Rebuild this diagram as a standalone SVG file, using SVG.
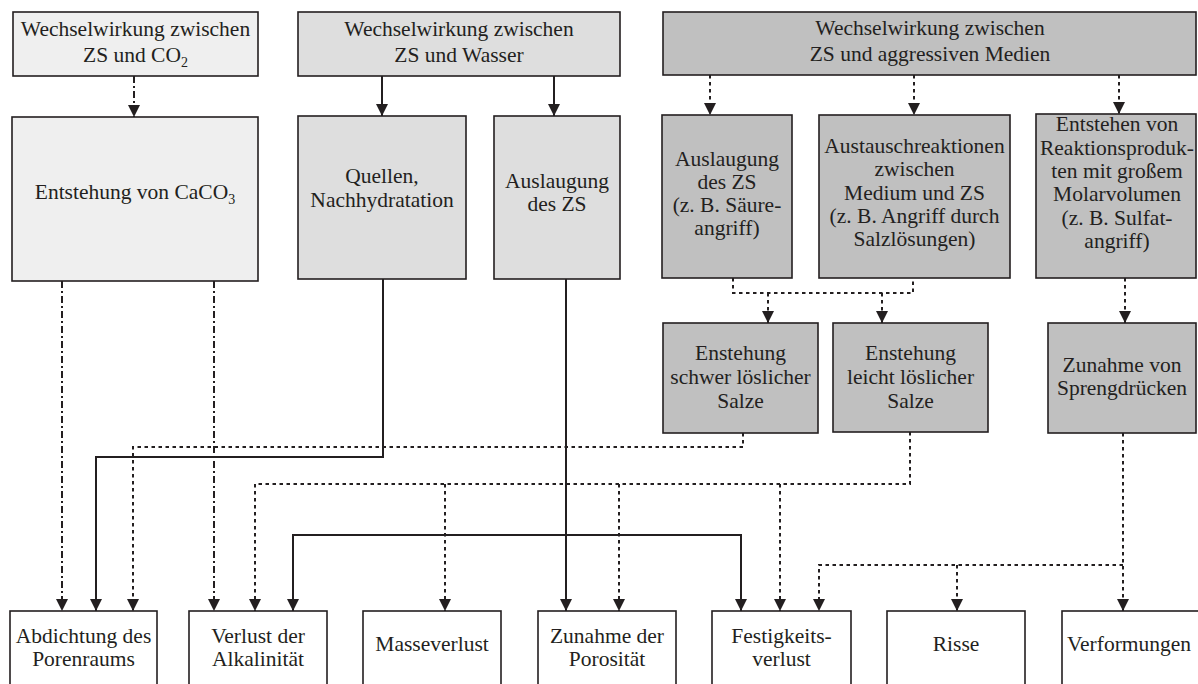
<svg xmlns="http://www.w3.org/2000/svg" width="1198" height="684" viewBox="0 0 1198 684">
<style>
  .box { stroke: #231f20; stroke-width: 1.6; }
  .l1 { fill: #efefef; }
  .l2 { fill: #dedede; }
  .l3 { fill: #c0c0c0; }
  .w { fill: #ffffff; }
  text { font-family: 'Liberation Serif', 'DejaVu Serif', serif; font-size: 21.5px; fill: #231f20; text-anchor: middle; }
  .sub { font-size: 14px; }
  .c { fill: none; stroke: #231f20; stroke-width: 2; }
  .dot { stroke-dasharray: 3.5 3.5; }
  .dd { stroke-dasharray: 7 3 2 3; }
</style>
<defs>
  <marker id="arr" viewBox="0 0 12 12" refX="12" refY="6" markerWidth="12" markerHeight="12" markerUnits="userSpaceOnUse" orient="auto">
    <path d="M0,0 L12,6 L0,12 Z" fill="#231f20"/>
  </marker>
</defs>
<rect width="1198" height="684" fill="#ffffff"/>

<g id="n-co2"><rect class="box l1" x="13" y="12" width="245" height="64"/>
  <text x="135.5" y="36">Wechselwirkung zwischen</text>
  <text x="135.5" y="62">ZS und CO<tspan class="sub" dy="5">2</tspan></text></g>
<g id="n-wasser"><rect class="box l2" x="298" y="12" width="322" height="64"/>
  <text x="459" y="36">Wechselwirkung zwischen</text>
  <text x="459" y="62">ZS und Wasser</text></g>
<g id="n-medien"><rect class="box l3" x="663" y="12" width="533" height="63"/>
  <text x="930" y="35">Wechselwirkung zwischen</text>
  <text x="930" y="61">ZS und aggressiven Medien</text></g>

<g id="n-caco3"><rect class="box l1" x="12" y="117" width="246" height="164"/>
  <text x="135" y="199">Entstehung von CaCO<tspan class="sub" dy="5">3</tspan></text></g>
<g id="n-quellen"><rect class="box l2" x="298" y="116" width="168" height="163"/>
  <text x="382" y="183">Quellen,</text>
  <text x="382" y="207">Nachhydratation</text></g>
<g id="n-auslaugung-w"><rect class="box l2" x="494" y="116" width="126" height="163"/>
  <text x="557" y="188">Auslaugung</text>
  <text x="557" y="211">des ZS</text></g>
<g id="n-auslaugung-s"><rect class="box l3" x="662" y="115" width="130" height="163"/>
  <text x="727" y="166">Auslaugung</text>
  <text x="727" y="189">des ZS</text>
  <text x="727" y="212">(z. B. Säure-</text>
  <text x="727" y="235">angriff)</text></g>
<g id="n-austausch"><rect class="box l3" x="819" y="115" width="191" height="163"/>
  <text x="914.5" y="153">Austauschreaktionen</text>
  <text x="914.5" y="176">zwischen</text>
  <text x="914.5" y="200">Medium und ZS</text>
  <text x="914.5" y="223">(z. B. Angriff durch</text>
  <text x="914.5" y="246">Salzlösungen)</text></g>
<g id="n-entstehen"><rect class="box l3" x="1036" y="114" width="160" height="164"/>
  <text x="1117" y="131">Entstehen von</text>
  <text x="1117" y="155">Reaktionsproduk-</text>
  <text x="1117" y="178">ten mit großem</text>
  <text x="1117" y="201">Molarvolumen</text>
  <text x="1117" y="225">(z. B. Sulfat-</text>
  <text x="1117" y="248">angriff)</text></g>

<g id="n-schwer"><rect class="box l3" x="663" y="323" width="155" height="110"/>
  <text x="740.5" y="360">Enstehung</text>
  <text x="740.5" y="384">schwer löslicher</text>
  <text x="740.5" y="408">Salze</text></g>
<g id="n-leicht"><rect class="box l3" x="833" y="323" width="155" height="109"/>
  <text x="910.5" y="360">Enstehung</text>
  <text x="910.5" y="384">leicht löslicher</text>
  <text x="910.5" y="408">Salze</text></g>
<g id="n-spreng"><rect class="box l3" x="1048" y="323" width="148" height="110"/>
  <text x="1122" y="372">Zunahme von</text>
  <text x="1122" y="395">Sprengdrücken</text></g>

<g id="n-abdichtung"><rect class="box w" x="10" y="611" width="147" height="80"/>
  <text x="83.5" y="643">Abdichtung des</text>
  <text x="83.5" y="666">Porenraums</text></g>
<g id="n-alkalinitaet"><rect class="box w" x="189" y="611" width="138" height="80"/>
  <text x="258" y="643">Verlust der</text>
  <text x="258" y="666">Alkalinität</text></g>
<g id="n-masse"><rect class="box w" x="363" y="611" width="138" height="80"/>
  <text x="432" y="651">Masseverlust</text></g>
<g id="n-porositaet"><rect class="box w" x="538" y="611" width="138" height="80"/>
  <text x="607" y="643">Zunahme der</text>
  <text x="607" y="666">Porosität</text></g>
<g id="n-festigkeit"><rect class="box w" x="712" y="611" width="139" height="80"/>
  <text x="781.5" y="643">Festigkeits-</text>
  <text x="781.5" y="666">verlust</text></g>
<g id="n-risse"><rect class="box w" x="887" y="611" width="138" height="80"/>
  <text x="956" y="651">Risse</text></g>
<g id="n-verformungen"><rect class="box w" x="1062" y="611" width="140" height="80"/>
  <text x="1129" y="651">Verformungen</text></g>

<g id="connectors">
  <path class="c dd" d="M134,76 V117" marker-end="url(#arr)"/>
  <path class="c" d="M382,76 V116" marker-end="url(#arr)"/>
  <path class="c" d="M554,76 V116" marker-end="url(#arr)"/>
  <path class="c dot" d="M710,75 V115" marker-end="url(#arr)"/>
  <path class="c dot" d="M914,75 V115" marker-end="url(#arr)"/>
  <path class="c dot" d="M1119,75 V114" marker-end="url(#arr)"/>

  <path class="c dot" d="M733,278 V293 H913 V278"/>
  <path class="c dot" d="M768,293 V323" marker-end="url(#arr)"/>
  <path class="c dot" d="M882,293 V323" marker-end="url(#arr)"/>
  <path class="c dot" d="M1125,278 V323" marker-end="url(#arr)"/>

  <path class="c dd" d="M62,281 V611" marker-end="url(#arr)"/>
  <path class="c dd" d="M214,281 V611" marker-end="url(#arr)"/>
  <path class="c" d="M383,279 V457 H96 V611" marker-end="url(#arr)"/>
  <path class="c dot" d="M743,433 V447 H133 V611" marker-end="url(#arr)"/>
  <path class="c" d="M566,279 V611" marker-end="url(#arr)"/>
  <path class="c" d="M293,611 V535 H741 V611" marker-end="url(#arr)"/>
  <path class="c" d="M293,535 V611" marker-end="url(#arr)"/>
  <path class="c dot" d="M910,432 V484 H255 V611" marker-end="url(#arr)"/>
  <path class="c dot" d="M445,484 V611" marker-end="url(#arr)"/>
  <path class="c dot" d="M619,484 V611" marker-end="url(#arr)"/>
  <path class="c dot" d="M780,484 V611" marker-end="url(#arr)"/>
  <path class="c dot" d="M1123,433 V611" marker-end="url(#arr)"/>
  <path class="c dot" d="M1123,565 H819 V611" marker-end="url(#arr)"/>
  <path class="c dot" d="M957,565 V611" marker-end="url(#arr)"/>
</g>
</svg>
